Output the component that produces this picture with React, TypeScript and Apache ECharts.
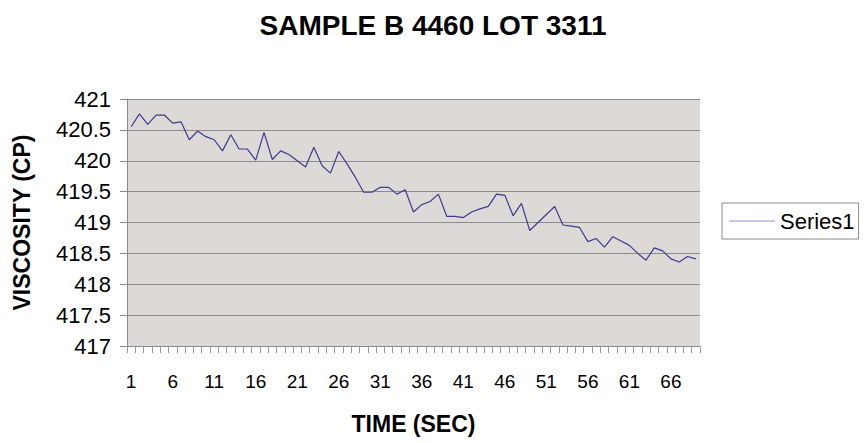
import React, { useEffect, useRef } from "react";
import * as echarts from "echarts";

const titleText = "SAMPLE B 4460 LOT 3311";
const xAxisName = "TIME (SEC)";
const yAxisName = "VISCOSITY (CP)";
const seriesName = "Series1";

const categories = [
  "1", "2", "3", "4", "5", "6", "7", "8", "9", "10",
  "11", "12", "13", "14", "15", "16", "17", "18", "19", "20",
  "21", "22", "23", "24", "25", "26", "27", "28", "29", "30",
  "31", "32", "33", "34", "35", "36", "37", "38", "39", "40",
  "41", "42", "43", "44", "45", "46", "47", "48", "49", "50",
  "51", "52", "53", "54", "55", "56", "57", "58", "59", "60",
  "61", "62", "63", "64", "65", "66", "67", "68", "69",
];

const viscosity = [
  420.55, 420.76, 420.59, 420.74, 420.74, 420.61, 420.63, 420.34, 420.48, 420.39,
  420.34, 420.16, 420.42, 420.19, 420.19, 420.01, 420.46, 420.02, 420.16, 420.10,
  420.0, 419.9, 420.22, 419.92, 419.8, 420.15, 419.95, 419.73, 419.49, 419.49,
  419.57, 419.57, 419.46, 419.53, 419.17, 419.29, 419.34, 419.46, 419.1, 419.1,
  419.08, 419.17, 419.22, 419.26, 419.46, 419.44, 419.11, 419.31, 418.87, 419.0,
  419.13, 419.26, 418.96, 418.94, 418.92, 418.69, 418.74, 418.6, 418.77, 418.7,
  418.63, 418.5, 418.39, 418.59, 418.54, 418.41, 418.36, 418.45, 418.41,
];

const yMin = 417;
const yMax = 421;
const yStep = 0.5;

export default function App() {
  const ref = useRef<HTMLDivElement>(null);
  useEffect(() => {
    if (!ref.current) return;
    const chart = echarts.init(ref.current, undefined, { renderer: "svg" });
    const font = "'Liberation Sans', Arial, sans-serif";
    chart.setOption({
      animation: false,
      backgroundColor: "#ffffff",
      title: {
        text: titleText,
        left: 428,
        top: 6,
        textAlign: "center",
        textStyle: { fontFamily: font, fontWeight: "bold", fontSize: 28, color: "#000" },
      },
      legend: {
        show: true,
        left: 722,
        top: 203,
        orient: "vertical",
        data: [{ name: seriesName, icon: "rect", itemStyle: { color: "#8f8cd6" } }],
        itemWidth: 46,
        itemHeight: 1,
        itemGap: 5,
        padding: [7, 4, 7, 7],
        borderColor: "#8a8a8a",
        borderWidth: 1,
        textStyle: { fontFamily: font, fontSize: 22, color: "#000" },
      },
      grid: {
        left: 127,
        right: 167,
        top: 99,
        bottom: 97,
        show: true,
        backgroundColor: "#dcd9d6",
        borderWidth: 0,
      },
      xAxis: {
        type: "category",
        data: categories,
        boundaryGap: true,
        name: xAxisName,
        nameLocation: "middle",
        nameGap: 66,
        nameTextStyle: { fontFamily: font, fontWeight: "bold", fontSize: 23, color: "#000" },
        axisLine: { show: true, lineStyle: { color: "#8a8a8a", width: 1 } },
        axisTick: { show: true, interval: 0, length: 7, lineStyle: { color: "#9a9a9a" } },
        axisLabel: {
          interval: 4,
          margin: 26,
          fontFamily: font,
          fontSize: 19,
          color: "#000",
        },
        splitLine: { show: false },
      },
      yAxis: {
        type: "value",
        min: yMin,
        max: yMax,
        interval: yStep,
        name: yAxisName,
        nameLocation: "middle",
        nameGap: 94,
        nameTextStyle: { fontFamily: font, fontWeight: "bold", fontSize: 23, color: "#000" },
        axisLine: { show: true, lineStyle: { color: "#8a8a8a", width: 1 } },
        axisTick: { show: true, length: 7, lineStyle: { color: "#8a8a8a" } },
        axisLabel: { margin: 16, fontFamily: font, fontSize: 22, color: "#000" },
        splitLine: { show: true, lineStyle: { color: "#8c8c8c", width: 1 } },
      },
      series: [
        {
          name: seriesName,
          type: "line",
          data: viscosity,
          symbol: "none",
          showSymbol: false,
          lineStyle: { color: "#3f3a94", width: 1.2 },
          itemStyle: { color: "#3f3a94" },
        },
      ],
    });
    return () => chart.dispose();
  }, []);
  return (
    <div
      ref={ref}
      style={{ position: "fixed", left: 0, top: 0, width: 867, height: 443, background: "#fff" }}
    />
  );
}
